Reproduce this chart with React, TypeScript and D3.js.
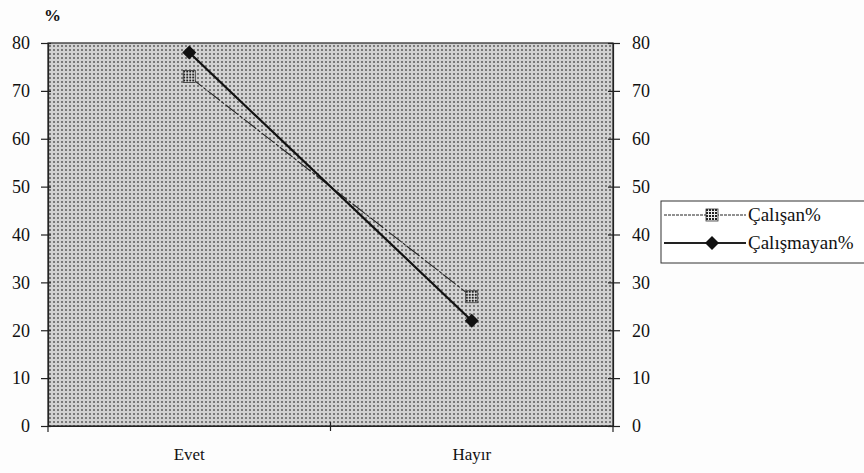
import * as d3 from "d3";
import {useEffect, useRef} from "react";

const categories = ["Evet", "Hayır"];
const calisan = [73, 27];
const calismayan = [78, 22];
const yTicks = [0, 10, 20, 30, 40, 50, 60, 70, 80];
const seriesNames = ["Çalışan%", "Çalışmayan%"];

const App = () => {
  const width = 864;
  const height = 473;
  const svgRef = useRef<SVGSVGElement>(null!);

  useEffect(() => {
    const svg = d3.select(svgRef.current);
    svg.selectAll("*").remove();

    const left = 48, right = 613, top = 43, bottom = 426;
    const font = "'Liberation Serif', 'DejaVu Serif', serif";

    // 背景のドット模様
    const defs = svg.append("defs");
    const pat = defs.append("pattern")
      .attr("id", "dots")
      .attr("width", 4)
      .attr("height", 4)
      .attr("patternUnits", "userSpaceOnUse");
    pat.append("rect").attr("width", 4).attr("height", 4).attr("fill", "#d2d2d2");
    pat.append("rect").attr("x", 1).attr("y", 1).attr("width", 2).attr("height", 2).attr("fill", "#7a7a7a");

    // マーカーの市松模様
    const chk = defs.append("pattern")
      .attr("id", "check")
      .attr("width", 3)
      .attr("height", 3)
      .attr("patternUnits", "userSpaceOnUse");
    chk.append("rect").attr("width", 3).attr("height", 3).attr("fill", "#eee");
    chk.append("rect").attr("width", 2).attr("height", 2).attr("fill", "#222");

    const x = d3.scaleBand().domain(categories).range([left, right]);
    const y = d3.scaleLinear().domain([0, 80]).range([bottom, top]);

    svg.append("rect")
      .attr("x", left).attr("y", top)
      .attr("width", right - left).attr("height", bottom - top)
      .attr("fill", "url(#dots)")
      .attr("stroke", "#222")
      .attr("stroke-width", 1.2);

    const yLeft = svg.append("g")
      .attr("transform", `translate(${left},0)`)
      .call(d3.axisLeft(y).tickValues(yTicks).tickSize(5).tickSizeOuter(0).tickPadding(13));
    const yRight = svg.append("g")
      .attr("transform", `translate(${right},0)`)
      .call(d3.axisRight(y).tickValues(yTicks).tickSize(5).tickSizeOuter(0).tickPadding(14));
    const xAxis = svg.append("g")
      .attr("transform", `translate(0,${bottom})`)
      .call(d3.axisBottom(x).tickSize(0).tickPadding(22));

    [yLeft, yRight, xAxis].forEach(g => {
      g.select(".domain").attr("stroke", "#222").attr("stroke-width", 1.2);
      g.selectAll(".tick line").attr("stroke", "#222").attr("stroke-width", 1.2);
      g.selectAll("text").attr("font-family", font).attr("font-size", 18).attr("fill", "#111");
    });
    yLeft.selectAll(".tick line").attr("x2", 3).attr("x1", -7);
    yRight.selectAll(".tick line").attr("x1", -5).attr("x2", 7);
    xAxis.selectAll("text").attr("font-size", 17);

    // カテゴリ境界の目盛
    xAxis.selectAll(".boundary")
      .data(x.domain().slice(1))
      .enter()
      .append("line")
      .attr("class", "boundary")
      .attr("x1", d => x(d)!)
      .attr("x2", d => x(d)!)
      .attr("y1", -4)
      .attr("y2", 5)
      .attr("stroke", "#222")
      .attr("stroke-width", 1.2);
    xAxis.append("line")
      .attr("x1", left).attr("x2", left).attr("y1", 0).attr("y2", 6)
      .attr("stroke", "#222").attr("stroke-width", 1.2);
    xAxis.append("line")
      .attr("x1", right).attr("x2", right).attr("y1", 0).attr("y2", 6)
      .attr("stroke", "#222").attr("stroke-width", 1.2);

    svg.append("text")
      .attr("x", 44).attr("y", 21)
      .attr("font-family", font).attr("font-size", 17).attr("font-weight", "bold")
      .attr("fill", "#111")
      .text("%");

    const cx = (c: string) => x(c)! + x.bandwidth() / 2;
    const line = d3.line<number>()
      .x((_, i) => cx(categories[i]))
      .y(d => y(d));

    svg.append("path")
      .attr("d", line(calisan))
      .attr("fill", "none")
      .attr("stroke", "#222")
      .attr("stroke-width", 1.1)
      .attr("stroke-dasharray", "16 2 3 2");
    svg.append("path")
      .attr("d", line(calismayan))
      .attr("fill", "none")
      .attr("stroke", "#111")
      .attr("stroke-width", 2.2);

    const square = (g: d3.Selection<SVGGElement, unknown, null, undefined>) => {
      g.append("rect")
        .attr("x", -6).attr("y", -6).attr("width", 12).attr("height", 12)
        .attr("fill", "url(#check)")
        .attr("stroke", "#333").attr("stroke-width", 0.8);
    };
    const diamond = (g: d3.Selection<SVGGElement, unknown, null, undefined>) => {
      g.append("path")
        .attr("d", "M0,-7 L7,0 L0,7 L-7,0 Z")
        .attr("fill", "#111");
    };

    calisan.forEach((v, i) => {
      square(svg.append("g").attr("transform", `translate(${cx(categories[i])},${y(v)})`));
    });
    calismayan.forEach((v, i) => {
      diamond(svg.append("g").attr("transform", `translate(${cx(categories[i])},${y(v)})`));
    });

    // 凡例
    const legend = svg.append("g");
    legend.append("rect")
      .attr("x", 661).attr("y", 201)
      .attr("width", 210).attr("height", 62)
      .attr("fill", "white")
      .attr("stroke", "#333")
      .attr("stroke-width", 1);
    const rows = [215, 243];
    seriesNames.forEach((name, i) => {
      const ly = rows[i];
      legend.append("line")
        .attr("x1", 664).attr("x2", 746).attr("y1", ly).attr("y2", ly)
        .attr("stroke", "#222")
        .attr("stroke-width", i === 0 ? 1 : 2)
        .attr("stroke-dasharray", i === 0 ? "3 1" : null);
      const mg = legend.append("g").attr("transform", `translate(712,${ly})`);
      if (i === 0) square(mg); else diamond(mg);
      legend.append("text")
        .attr("x", 748).attr("y", ly + 6)
        .attr("font-family", font).attr("font-size", 19)
        .attr("fill", "#111")
        .text(name);
    });
  }, []);

  return (
    <svg width={width} height={height} ref={svgRef}
         style={{position: "absolute", left: 0, top: 0, background: "#fdfdfd"}}/>
  );
};

export default App;
